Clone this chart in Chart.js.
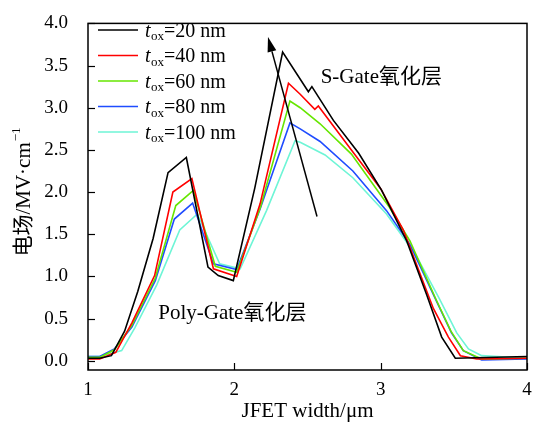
<!DOCTYPE html>
<html>
<head>
<meta charset="utf-8">
<script src="https://cdn.jsdelivr.net/npm/chart.js@4/dist/chart.umd.min.js"></script>
<style>
html,body{margin:0;padding:0;background:#fff;}
#wrap{width:538px;height:432px;position:relative;}
</style>
</head>
<body>
<div id="wrap"><canvas id="c" width="538" height="432"></canvas></div>
<script>
// ---- data ----
const thickness = ["20", "40", "60", "80", "100"];
const colors = ["#000000", "#ff0000", "#66e600", "#1f4cff", "#6ef5d6"];

const x20 = [1.0, 1.08, 1.16, 1.25, 1.34, 1.445, 1.547, 1.672, 1.82, 1.89, 1.993, 2.14, 2.33, 2.506, 2.53, 2.677, 2.85, 3.007, 3.178, 3.315, 3.417, 3.51, 4.0];
const y20 = [0.03, 0.03, 0.06, 0.35, 0.82, 1.45, 2.23, 2.41, 1.11, 1.01, 0.95, 2.05, 3.66, 3.19, 3.25, 2.85, 2.46, 2.02, 1.42, 0.78, 0.28, 0.03, 0.05];

const x40 = [1.0, 1.08, 1.19, 1.3, 1.455, 1.58, 1.71, 1.857, 2.016, 2.176, 2.37, 2.45, 2.55, 2.574, 2.8, 3.0, 3.155, 3.36, 3.463, 3.545, 3.657, 4.0];
const y40 = [0.02, 0.02, 0.10, 0.45, 1.01, 2.0, 2.16, 1.09, 1.0, 1.86, 3.29, 3.16, 2.98, 3.02, 2.5, 2.04, 1.55, 0.62, 0.28, 0.06, 0.02, 0.03];

const x60 = [1.0, 1.08, 1.18, 1.3, 1.46, 1.6, 1.72, 1.87, 2.016, 2.18, 2.38, 2.45, 2.586, 2.8, 3.06, 3.2, 3.38, 3.48, 3.565, 3.69, 4.0];
const y60 = [0.04, 0.04, 0.13, 0.42, 0.98, 1.84, 2.02, 1.12, 1.05, 1.83, 3.08, 3.0, 2.81, 2.45, 1.82, 1.42, 0.72, 0.35, 0.12, 0.02, 0.03];

const x80 = [1.0, 1.08, 1.18, 1.3, 1.46, 1.59, 1.715, 1.857, 2.016, 2.176, 2.38, 2.45, 2.586, 2.81, 3.04, 3.2, 3.383, 3.484, 3.565, 3.69, 4.0];
const y80 = [0.05, 0.05, 0.14, 0.40, 0.95, 1.68, 1.87, 1.15, 1.08, 1.80, 2.82, 2.75, 2.6, 2.25, 1.78, 1.38, 0.70, 0.33, 0.12, 0.01, 0.02];

const x100 = [1.0, 1.08, 1.23, 1.32, 1.47, 1.627, 1.747, 1.9, 2.04, 2.22, 2.415, 2.45, 2.62, 2.81, 3.04, 3.245, 3.4, 3.52, 3.6, 3.69, 4.0];
const y100 = [0.05, 0.05, 0.12, 0.39, 0.90, 1.55, 1.74, 1.15, 1.09, 1.78, 2.61, 2.59, 2.44, 2.17, 1.74, 1.24, 0.74, 0.33, 0.14, 0.06, 0.03];

const xTicks = [1, 2, 3, 4];
const yTicks = [0, 0.5, 1.0, 1.5, 2.0, 2.5, 3.0, 3.5, 4.0];

const xTitle = "JFET width/μm";
const yTitle = "电场/MV·cm";
const yTitleSup = "−1";
const annoS = { text: "S-Gate氧化层", x: 2.59, y: 3.36 };
const annoP = { text: "Poly-Gate氧化层", x: 1.48, y: 0.56 };
const arrowFrom = { x: 2.565, y: 1.71 };
const arrowTo = { x: 2.23, y: 3.84 };

// ---- build ----
const SERIF = '"Liberation Serif", "Times New Roman", "Noto Sans CJK SC", serif';
const xs = [x20, x40, x60, x80, x100];
const ys = [y20, y40, y60, y80, y100];
const datasets = thickness.map((t, i) => ({
  label: "tox=" + t + " nm",
  data: xs[i].map((x, j) => ({ x: x, y: ys[i][j] })),
  borderColor: colors[i],
  backgroundColor: colors[i],
  borderWidth: 1.6,
  pointRadius: 0,
  tension: 0,
  fill: false,
  order: i
}));

const decor = {
  id: "decor",
  afterDraw(chart) {
    const ctx = chart.ctx;
    const xs_ = chart.scales.x, ys_ = chart.scales.y;
    const a = chart.chartArea;
    ctx.save();
    // frame
    ctx.strokeStyle = "#000";
    ctx.lineWidth = 1.5;
    ctx.strokeRect(a.left, a.top, a.right - a.left, a.bottom - a.top);
    // inward ticks
    ctx.lineWidth = 1.2;
    yTicks.forEach(v => {
      const py = Math.round(ys_.getPixelForValue(v)) + 0.5;
      ctx.beginPath(); ctx.moveTo(a.left, py); ctx.lineTo(a.left + 7, py); ctx.stroke();
    });
    xTicks.forEach(v => {
      const px = Math.round(xs_.getPixelForValue(v)) + 0.5;
      ctx.beginPath(); ctx.moveTo(px, a.bottom); ctx.lineTo(px, a.bottom - 7); ctx.stroke();
    });
    // x title
    ctx.fillStyle = "#000";
    ctx.font = "21px " + SERIF;
    ctx.textAlign = "center";
    ctx.textBaseline = "middle";
    ctx.fillText(xTitle, (a.left + a.right) / 2, 411);
    // y title (rotated)
    ctx.save();
    ctx.translate(23, 192);
    ctx.rotate(-Math.PI / 2);
    ctx.font = "21px " + SERIF;
    const w1 = ctx.measureText(yTitle).width;
    ctx.font = "13px " + SERIF;
    const w2 = ctx.measureText(yTitleSup).width;
    const start = -(w1 + w2 + 1) / 2;
    ctx.textAlign = "left";
    ctx.textBaseline = "alphabetic";
    ctx.font = "21px " + SERIF;
    ctx.fillText(yTitle, start, 7);
    ctx.font = "13px " + SERIF;
    ctx.fillText(yTitleSup, start + w1 + 1, -3);
    ctx.restore();
    // legend
    const lx0 = 98, lx1 = 138, ly0 = 30, dy = 25.5;
    thickness.forEach((t, i) => {
      const y = ly0 + i * dy;
      ctx.strokeStyle = colors[i];
      ctx.lineWidth = 1.6;
      ctx.beginPath(); ctx.moveTo(lx0, y); ctx.lineTo(lx1, y); ctx.stroke();
      ctx.fillStyle = "#000";
      ctx.textAlign = "left";
      ctx.textBaseline = "alphabetic";
      let x = 145;
      ctx.font = "italic 20px " + SERIF;
      ctx.fillText("t", x, y + 6.5);
      x += ctx.measureText("t").width + 0.5;
      ctx.font = "13px " + SERIF;
      ctx.fillText("ox", x, y + 10);
      x += ctx.measureText("ox").width;
      ctx.font = "20px " + SERIF;
      ctx.fillText("=" + t + " nm", x, y + 6.5);
    });
    // annotations
    ctx.font = "21px " + SERIF;
    ctx.textAlign = "left";
    ctx.textBaseline = "middle";
    ctx.fillStyle = "#000";
    ctx.fillText(annoS.text, xs_.getPixelForValue(annoS.x), ys_.getPixelForValue(annoS.y));
    ctx.fillText(annoP.text, xs_.getPixelForValue(annoP.x), ys_.getPixelForValue(annoP.y));
    // arrow
    const x0 = xs_.getPixelForValue(arrowFrom.x), y0 = ys_.getPixelForValue(arrowFrom.y);
    const x1 = xs_.getPixelForValue(arrowTo.x), y1 = ys_.getPixelForValue(arrowTo.y);
    const ang = Math.atan2(y1 - y0, x1 - x0);
    const hl = 15, hw = 4.5;
    const bx = x1 - hl * Math.cos(ang), by = y1 - hl * Math.sin(ang);
    ctx.strokeStyle = "#000";
    ctx.lineWidth = 1.5;
    ctx.beginPath(); ctx.moveTo(x0, y0); ctx.lineTo(bx, by); ctx.stroke();
    ctx.beginPath();
    ctx.moveTo(x1, y1);
    ctx.lineTo(bx + hw * Math.sin(ang), by - hw * Math.cos(ang));
    ctx.lineTo(bx - hw * Math.sin(ang), by + hw * Math.cos(ang));
    ctx.closePath();
    ctx.fillStyle = "#000";
    ctx.fill();
    ctx.restore();
  }
};

new Chart(document.getElementById("c"), {
  type: "line",
  data: { datasets: datasets },
  options: {
    responsive: false,
    animation: false,
    devicePixelRatio: 1,
    layout: { padding: { top: 15, right: 11, left: 0, bottom: 0 } },
    plugins: { legend: { display: false }, tooltip: { enabled: false } },
    scales: {
      x: {
        type: "linear",
        min: 1, max: 4,
        grid: { display: false },
        border: { display: false },
        afterFit: s => { s.height = 62; },
        afterBuildTicks: s => { s.ticks = xTicks.map(v => ({ value: v })); },
        ticks: {
          color: "#000",
          padding: 1,
          maxRotation: 0,
          font: { family: SERIF, size: 19 },
          callback: v => String(v)
        }
      },
      y: {
        type: "linear",
        min: -0.11, max: 4.0,
        grid: { display: false },
        border: { display: false },
        afterFit: s => { s.width = 88; },
        afterBuildTicks: s => { s.ticks = yTicks.map(v => ({ value: v })); },
        ticks: {
          color: "#000",
          padding: 12,
          font: { family: SERIF, size: 19 },
          callback: v => Number(v).toFixed(1)
        }
      }
    }
  },
  plugins: [decor]
});
</script>
</body>
</html>
